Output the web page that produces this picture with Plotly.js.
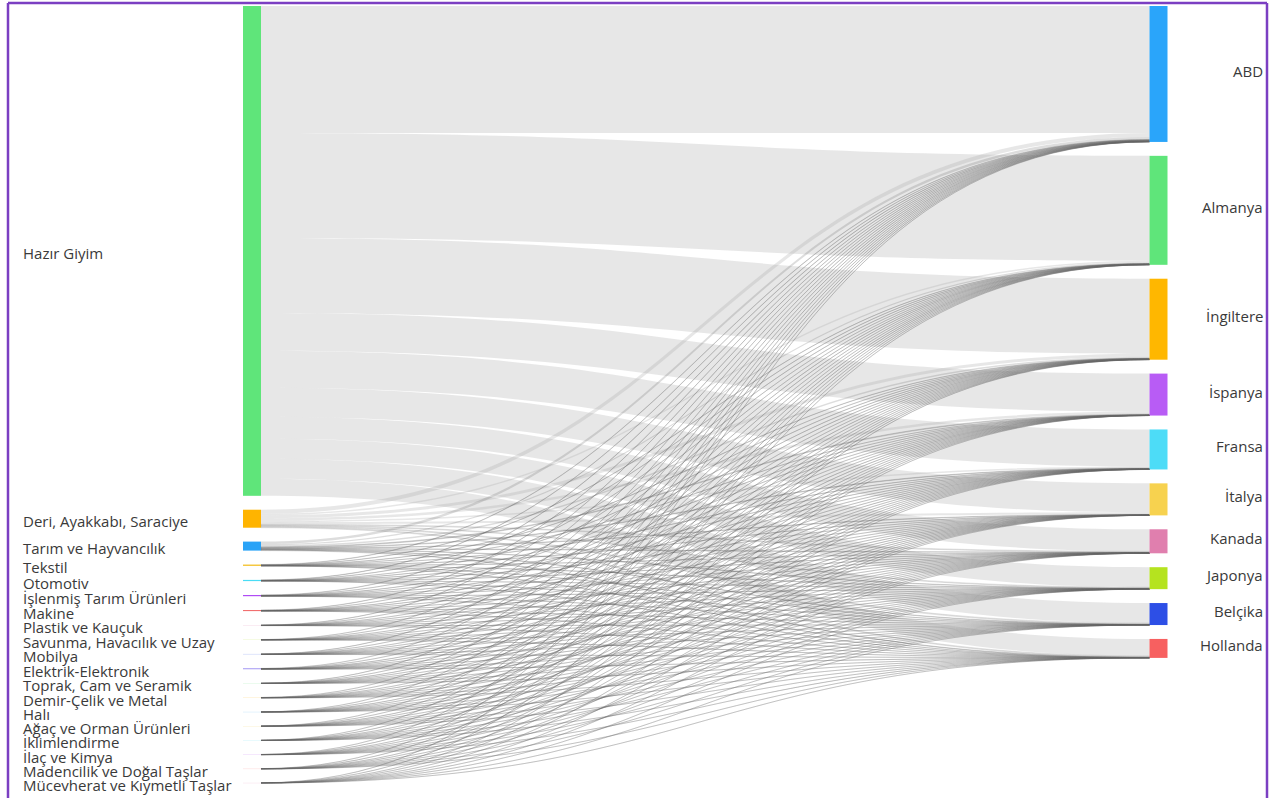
<!DOCTYPE html>
<html><head><meta charset="utf-8">
<script src="https://cdn.plot.ly/plotly-3.0.1.min.js"></script>
<style>html,body{margin:0;padding:0;background:#fff;overflow:hidden;} #chart{width:1273px;height:798px;}</style>
</head><body><div id="chart"></div>
<script>
// ---- DATA ----
const sectors = ["Hazır Giyim", "Deri, Ayakkabı, Saraciye", "Tarım ve Hayvancılık", "Tekstil", "Otomotiv",
  "İşlenmiş Tarım Ürünleri", "Makine", "Plastik ve Kauçuk", "Savunma, Havacılık ve Uzay", "Mobilya",
  "Elektrik-Elektronik", "Toprak, Cam ve Seramik", "Demir-Çelik ve Metal", "Halı", "Ağaç ve Orman Ürünleri",
  "İklimlendirme", "İlaç ve Kimya", "Madencilik ve Doğal Taşlar", "Mücevherat ve Kıymetli Taşlar"];
const countries = ["ABD", "Almanya", "İngiltere", "İspanya", "Fransa", "İtalya", "Kanada", "Japonya", "Belçika", "Hollanda"];

// flows from each sector to: ABD, Almanya, İngiltere, İspanya, Fransa, İtalya, Kanada, Japonya, Belçika, Hollanda
const hazirGiyim   = [127, 105, 75, 38, 37, 29, 22, 20, 20, 17];
const deri         = [4, 1.5, 3, 2.5, 1.5, 2, 0.8, 0.8, 1, 0.9];
const tarim        = [2.5, 1.2, 1.5, 0.8, 0.6, 0.5, 0.5, 0.4, 0.4, 0.6];
const tekstil      = [0.35, 0.2, 0.25, 0.1, 0.15, 0.1, 0.1, 0.1, 0.08, 0.07];
const otomotiv     = [0.3, 0.18, 0.15, 0.08, 0.12, 0.05, 0.1, 0.1, 0.07, 0.05];
const islenmis     = [0.3, 0.15, 0.2, 0.08, 0.1, 0.06, 0.09, 0.1, 0.07, 0.05];
const makine       = [0.25, 0.13, 0.15, 0.07, 0.09, 0.05, 0.07, 0.08, 0.06, 0.05];
const plastik      = [0.15, 0.08, 0.09, 0.04, 0.05, 0.03, 0.04, 0.05, 0.04, 0.03];
const savunma      = [0.14, 0.06, 0.07, 0.03, 0.04, 0.02, 0.04, 0.04, 0.03, 0.03];
const mobilya      = [0.14, 0.08, 0.1, 0.04, 0.05, 0.03, 0.05, 0.04, 0.04, 0.03];
const elektrik     = [0.2, 0.1, 0.12, 0.06, 0.07, 0.04, 0.06, 0.06, 0.05, 0.04];
const toprak       = [0.1, 0.05, 0.06, 0.03, 0.04, 0.02, 0.03, 0.03, 0.02, 0.02];
const demirCelik   = [0.12, 0.07, 0.07, 0.04, 0.04, 0.03, 0.04, 0.03, 0.03, 0.03];
const hali         = [0.08, 0.04, 0.04, 0.02, 0.02, 0.02, 0.02, 0.02, 0.02, 0.02];
const agac         = [0.07, 0.04, 0.05, 0.02, 0.03, 0.02, 0.02, 0.02, 0.02, 0.01];
const iklimlendirme= [0.07, 0.05, 0.04, 0.02, 0.03, 0.02, 0.02, 0.02, 0.02, 0.01];
const ilac         = [0.08, 0.04, 0.04, 0.02, 0.03, 0.02, 0.02, 0.02, 0.02, 0.01];
const madencilik   = [0.08, 0.03, 0.05, 0.02, 0.03, 0.02, 0.02, 0.02, 0.02, 0.01];
const mucevherat   = [0.06, 0.02, 0.03, 0.01, 0.02, 0.01, 0.01, 0.02, 0.01, 0.01];

const sectorColors = ["#5fe57a", "#ffb400", "#2aa3f7", "#f5c842", "#4adcf5", "#b04cf5", "#f06060",
  "rgba(224,127,174,0.25)", "rgba(181,227,31,0.25)", "rgba(45,79,230,0.25)", "#8a7cf0",
  "rgba(95,229,122,0.25)", "rgba(255,180,0,0.25)", "rgba(42,163,247,0.25)", "rgba(245,200,66,0.25)",
  "rgba(74,220,245,0.25)", "rgba(176,76,245,0.25)", "rgba(240,96,96,0.25)", "rgba(224,127,174,0.25)"];
const countryColors = ["#2aa5fa", "#5fe57a", "#ffb700", "#b85cf5", "#4ddcf7", "#f7d24f", "#e07fae", "#b5e31f", "#2d4fe6", "#f76060"];

// ---- BUILD ----
const flows = [hazirGiyim, deri, tarim, tekstil, otomotiv, islenmis, makine, plastik, savunma, mobilya,
  elektrik, toprak, demirCelik, hali, agac, iklimlendirme, ilac, madencilik, mucevherat];

const W = 1273, PH = 798;
const topPx = 6, botPx = 783;
const H = botPx - topPx;
const pad = 13.9;
const thick = 18;
const nS = sectors.length, nC = countries.length;
const sum = a => a.reduce((s, v) => s + v, 0);
const leftTotals = flows.map(sum);
const rightTotals = countries.map((c, j) => sum(flows.map(f => f[j])));
const total = sum(leftTotals);
const ky = Math.min((H - (nS - 1) * pad) / total, (H - (nC - 1) * pad) / total);
function centers(vals) {
  let y = 0;
  return vals.map(v => { const h = v * ky; const c = y + h / 2; y += h + pad; return c; });
}
const leftC = centers(leftTotals), rightC = centers(rightTotals);

const src = [], tgt = [], val = [], lcol = [];
flows.forEach((f, i) => f.forEach((v, j) => {
  src.push(i); tgt.push(nS + j); val.push(v);
  lcol.push(i < 2 ? "rgba(170,170,170,0.28)" : "rgba(100,100,100,0.22)");
}));

const labels = sectors.concat(countries);
const nodeX = sectors.map(() => 252 / W).concat(countries.map(() => 1158.5 / W));
const nodeY = leftC.map(c => c / H).concat(rightC.map(c => c / H));

const trace = {
  type: "sankey",
  arrangement: "fixed",
  domain: { x: [0, 1], y: [1 - botPx / PH, 1 - topPx / PH] },
  node: {
    label: labels.map(() => ""),
    customdata: labels,
    hovertemplate: "%{customdata}: %{value}<extra></extra>",
    x: nodeX, y: nodeY,
    pad: pad, thickness: thick,
    color: sectorColors.concat(countryColors),
    line: { width: 0 }
  },
  link: {
    source: src, target: tgt, value: val,
    color: lcol,
    hoverinfo: "none"
  }
};

const font = { family: "Open Sans, sans-serif", size: 15, color: "#3a3a3a" };
const annotations = [];
sectors.forEach((s, i) => annotations.push({
  text: s, xref: "paper", yref: "paper", x: 21.5 / W, y: 1 - (topPx + leftC[i]) / PH,
  xanchor: "left", yanchor: "middle", showarrow: false, font: font, yshift: -2, borderpad: 0
}));
countries.forEach((c, j) => annotations.push({
  text: c, xref: "paper", yref: "paper", x: 1264 / W, y: 1 - (topPx + rightC[j]) / PH,
  xanchor: "right", yanchor: "middle", showarrow: false, font: font, yshift: 3, borderpad: 0
}));

const frame = "#7b3fc2";
const shapes = [
  { type: "line", xref: "paper", yref: "paper", x0: 8 / W, x1: 8 / W, y0: 0, y1: 1 - 3 / PH, line: { color: frame, width: 2.5 } },
  { type: "line", xref: "paper", yref: "paper", x0: 8 / W, x1: 1267 / W, y0: 1 - 3 / PH, y1: 1 - 3 / PH, line: { color: frame, width: 2.5 } },
  { type: "line", xref: "paper", yref: "paper", x0: 1267 / W, x1: 1267 / W, y0: 0, y1: 1 - 3 / PH, line: { color: frame, width: 2.5 } }
];

Plotly.newPlot("chart", [trace], {
  width: W, height: PH,
  margin: { l: 0, r: 0, t: 0, b: 0 },
  paper_bgcolor: "#fff",
  font: font,
  annotations: annotations,
  shapes: shapes,
  showlegend: false
}, { displayModeBar: false });
</script>
</body></html>
